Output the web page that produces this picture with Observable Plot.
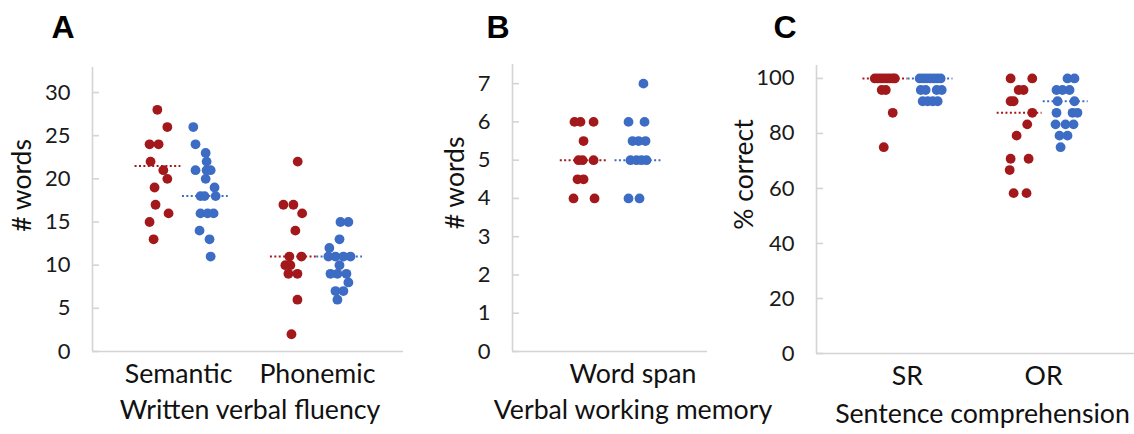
<!DOCTYPE html>
<html>
<head>
<meta charset="utf-8">
<script src="https://cdn.jsdelivr.net/npm/d3@7"></script>
<script src="https://cdn.jsdelivr.net/npm/@observablehq/plot@0.6"></script>
<style>
  html, body { margin: 0; padding: 0; background: #fff; }
  body { width: 1134px; height: 434px; position: relative; overflow: hidden; font-family: Lato, "Open Sans", sans-serif; }
  .panel { position: absolute; top: 0; }
  .letter { position: absolute; top: 7px; width: 40px; margin-left: -20px; text-align: center;
            font: bold 32px "Liberation Sans", Arial, sans-serif; color: #000; line-height: 40px; }
</style>
</head>
<body>
<div class="letter" style="left:63px">A</div>
<div class="letter" style="left:498px">B</div>
<div class="letter" style="left:785px">C</div>
<div id="panelA" class="panel" style="left:0px"></div>
<div id="panelB" class="panel" style="left:420px"></div>
<div id="panelC" class="panel" style="left:720px"></div>
<script>
// ---------- Panel A: Written verbal fluency ----------
const aCategories = ["Semantic", "Phonemic"];
const aYTicks = [0, 5, 10, 15, 20, 25, 30];
const aSemanticRedY = [28, 26, 24, 24, 22, 21, 20, 19, 17, 16, 15, 13];
const aSemanticRedX = [0.847, 0.919, 0.791, 0.856, 0.798, 0.890, 0.919, 0.827, 0.834, 0.928, 0.791, 0.820];
const aSemanticBlueY = [26, 24, 23, 22, 21, 21, 21, 20, 19, 18, 18, 18, 16, 16, 16, 14, 13, 11];
const aSemanticBlueX = [1.106, 1.122, 1.195, 1.202, 1.122, 1.202, 1.231, 1.195, 1.259, 1.158, 1.187, 1.267, 1.158, 1.209, 1.252, 1.151, 1.223, 1.231];
const aPhonemicRedY = [22, 17, 17, 16, 14, 11, 11, 10, 10, 9, 9, 6, 2];
const aPhonemicRedX = [1.858, 1.755, 1.827, 1.890, 1.841, 1.798, 1.885, 1.769, 1.805, 1.791, 1.856, 1.856, 1.813];
const aPhonemicBlueY = [15, 15, 13, 12, 11, 11, 11, 11, 10, 9, 9, 9, 8, 7, 7, 6];
const aPhonemicBlueX = [2.166, 2.223, 2.159, 2.086, 2.079, 2.130, 2.187, 2.238, 2.159, 2.094, 2.144, 2.209, 2.223, 2.130, 2.187, 2.144];
const aMeans = [21.5, 18, 11, 11];

// ---------- Panel B: Verbal working memory ----------
const bCategories = ["Word span"];
const bYTicks = [0, 1, 2, 3, 4, 5, 6, 7];
const bRedY = [6, 6, 6, 5.5, 5, 5, 5, 4.5, 4.5, 4, 4];
const bRedX = [0.745, 0.788, 0.882, 0.810, 0.774, 0.803, 0.882, 0.767, 0.810, 0.738, 0.889];
const bBlueY = [7, 6, 6, 5.5, 5.5, 5.5, 5, 5, 5, 5, 4, 4];
const bBlueX = [1.240, 1.133, 1.248, 1.162, 1.205, 1.255, 1.147, 1.190, 1.226, 1.262, 1.133, 1.212];
const bMeans = [5, 5];

// ---------- Panel C: Sentence comprehension ----------
const cCategories = ["SR", "OR"];
const cYTicks = [0, 20, 40, 60, 80, 100];
const cSRRedY = [100, 100, 100, 100, 100, 100, 100, 100, 95.8, 95.8, 87.5, 75];
const cSRRedX = [0.760, 0.782, 0.804, 0.826, 0.848, 0.870, 0.892, 0.907, 0.811, 0.841, 0.892, 0.826];
const cSRBlueY = [100, 100, 100, 100, 100, 100, 100, 95.8, 95.8, 95.8, 95.8, 91.7, 91.7, 91.7, 91.7];
const cSRBlueX = [1.090, 1.116, 1.142, 1.167, 1.193, 1.219, 1.244, 1.098, 1.134, 1.215, 1.252, 1.112, 1.149, 1.186, 1.222];
const cORRedY = [100, 100, 95.8, 95.8, 91.7, 91.7, 87.5, 83.3, 79.2, 70.8, 70.8, 66.7, 58.3, 58.3];
const cORRedX = [1.758, 1.917, 1.817, 1.853, 1.758, 1.780, 1.917, 1.880, 1.802, 1.758, 1.890, 1.751, 1.780, 1.875];
const cORBlueY = [100, 100, 95.8, 95.8, 95.8, 91.7, 91.7, 87.5, 87.5, 87.5, 83.3, 83.3, 83.3, 79.2, 79.2, 75];
const cORBlueX = [2.176, 2.227, 2.095, 2.139, 2.191, 2.103, 2.227, 2.095, 2.213, 2.249, 2.088, 2.161, 2.220, 2.117, 2.176, 2.125];
const cMeans = [100, 100, 87.5, 91.7];

const GROUPS = ["group1", "group2"];
const COLORS = ["#a3191b", "#3d6cc4"];
const AXIS = "#d4d4d4";
const FONT = "Lato, 'Open Sans', sans-serif";

function panel(cfg) {
  const dots = [];
  cfg.series.forEach(s => s.y.forEach((v, i) => dots.push({x: s.x[i], y: v, g: s.g})));
  const meanRows = cfg.series.map((s, i) => {
    const cx = d3.mean(s.x);
    return {x1: cx - 0.165, x2: cx + 0.165, y: cfg.means[i], g: s.g};
  });
  return Plot.plot({
    width: cfg.width, height: 434,
    marginLeft: cfg.ml, marginRight: cfg.mr, marginTop: cfg.mt, marginBottom: 434 - cfg.bottom,
    style: {fontFamily: FONT, fontSize: "22px", color: "#1a1a1a", background: "transparent", overflow: "visible"},
    x: {domain: cfg.xDomain, axis: null},
    y: {domain: cfg.yDomain, axis: null},
    color: {domain: GROUPS, range: COLORS},
    marks: [
      Plot.ruleY([0], {stroke: AXIS, strokeWidth: 1.6}),
      Plot.ruleX([cfg.xDomain[0]], {stroke: AXIS, strokeWidth: 1.6}),
      Plot.axisY({ticks: cfg.yTicks, tickSize: -7, tickPadding: 29, stroke: AXIS, strokeWidth: 1.6,
                  fontSize: 22, label: null, tickFormat: d => String(d)}),
      Plot.ruleY(meanRows, {y: "y", x1: "x1", x2: "x2", stroke: "g", strokeWidth: 2, strokeDasharray: "2,2.4"}),
      Plot.dot(dots, {x: "x", y: "y", fill: "g", r: 4.9, stroke: null}),
      Plot.text(cfg.cats, {x: (d, i) => i + 1, text: d => d, frameAnchor: "bottom", textAnchor: "middle",
                           dy: 31, dx: cfg.catDx || 0, fontSize: 26.7, fill: "#111"}),
      Plot.text([cfg.xTitle], {text: d => d, frameAnchor: "bottom", textAnchor: "middle", dy: cfg.xTitleDy,
                               dx: cfg.xTitleDx, fontSize: 26.7, fill: "#111"}),
      Plot.text([cfg.yTitle], {text: d => d, frameAnchor: "left", textAnchor: "middle", dx: cfg.yTitleDx,
                               dy: cfg.yTitleDy, rotate: -90, fontSize: 26.5, fill: "#111"})
    ]
  });
}

document.getElementById("panelA").appendChild(panel({
  width: 405, ml: 92, mr: 2, mt: 67, bottom: 351,
  xDomain: [0.38, 2.62], yDomain: [0, 32.9], yTicks: aYTicks,
  series: [
    {g: "group1", x: aSemanticRedX, y: aSemanticRedY},
    {g: "group2", x: aSemanticBlueX, y: aSemanticBlueY},
    {g: "group1", x: aPhonemicRedX, y: aPhonemicRedY},
    {g: "group2", x: aPhonemicBlueX, y: aPhonemicBlueY}
  ],
  means: aMeans, cats: aCategories,
  xTitle: "Written verbal fluency", xTitleDx: 2, xTitleDy: 67,
  yTitle: "# words", yTitleDx: -70, yTitleDy: -24
}));

document.getElementById("panelB").appendChild(panel({
  width: 290, ml: 92, mr: 3, mt: 64, bottom: 351,
  xDomain: [0.3, 1.7], yDomain: [0, 7.5], yTicks: bYTicks,
  series: [
    {g: "group1", x: bRedX, y: bRedY},
    {g: "group2", x: bBlueX, y: bBlueY}
  ],
  means: bMeans, cats: bCategories, catDx: 23,
  xTitle: "Verbal working memory", xTitleDx: 23, xTitleDy: 67,
  yTitle: "# words", yTitleDx: -57, yTitleDy: -25
}));

document.getElementById("panelC").appendChild(panel({
  width: 414, ml: 96, mr: 0, mt: 65, bottom: 353,
  xDomain: [0.332, 2.668], yDomain: [0, 104.7], yTicks: cYTicks,
  series: [
    {g: "group1", x: cSRRedX, y: cSRRedY},
    {g: "group2", x: cSRBlueX, y: cSRBlueY},
    {g: "group1", x: cORRedX, y: cORRedY},
    {g: "group2", x: cORBlueX, y: cORBlueY}
  ],
  means: cMeans, cats: cCategories,
  xTitle: "Sentence comprehension", xTitleDx: 7, xTitleDy: 69,
  yTitle: "% correct", yTitleDx: -72, yTitleDy: -35
}));
</script>
</body>
</html>
